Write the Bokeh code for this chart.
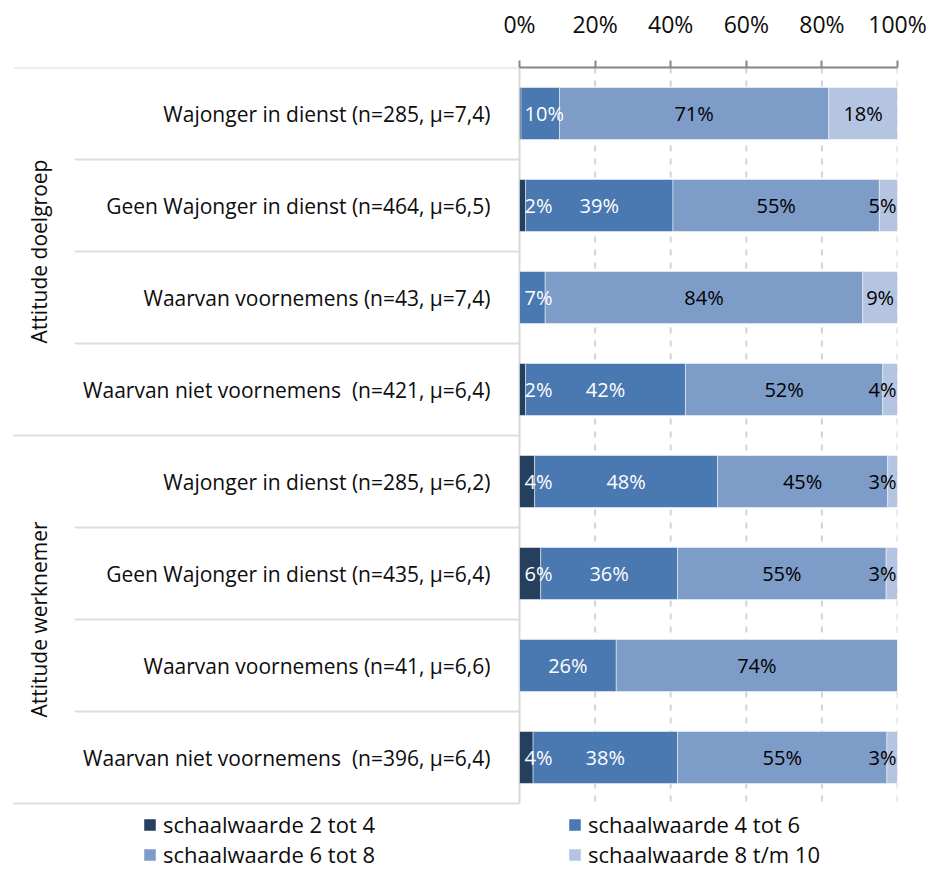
import math
from bokeh.plotting import figure
from bokeh.models import ColumnDataSource, Range1d, FixedTicker
from bokeh.core.properties import value
from bokeh.embed import file_html
from bokeh.resources import INLINE

# ---------------- data ----------------
groups = ["Attitude doelgroep", "Attitude werknemer"]
group_sizes = [4, 4]
categories = [
    "Wajonger in dienst (n=285, μ=7,4)",
    "Geen Wajonger in dienst (n=464, μ=6,5)",
    "Waarvan voornemens (n=43, μ=7,4)",
    "Waarvan niet voornemens  (n=421, μ=6,4)",
    "Wajonger in dienst (n=285, μ=6,2)",
    "Geen Wajonger in dienst (n=435, μ=6,4)",
    "Waarvan voornemens (n=41, μ=6,6)",
    "Waarvan niet voornemens  (n=396, μ=6,4)",
]
series_names = ["schaalwaarde 2 tot 4", "schaalwaarde 4 tot 6",
                "schaalwaarde 6 tot 8", "schaalwaarde 8 t/m 10"]
s_2_4 = [0.4, 1.6, 0.0, 1.6, 4.0, 5.6, 0.0, 3.6]
s_4_6 = [10.2, 39.0, 6.8, 42.3, 48.4, 36.2, 25.6, 38.2]
s_6_8 = [71.2, 54.6, 84.0, 52.2, 45.0, 55.2, 74.4, 55.4]
s_8_10 = [18.2, 4.8, 9.2, 3.9, 2.6, 3.0, 0.0, 2.8]
x_ticks = [0, 20, 40, 60, 80, 100]
x_tick_labels = ["0%", "20%", "40%", "60%", "80%", "100%"]

# ---------------- layout / style ----------------
FONT = "Open Sans"
colors = ["#253F5F", "#4A78B0", "#7E9CC8", "#B5C4E0"]
label_colors = ["white", "white", "black", "black"]
W, H = 931, 870
X0_PX, X100_PX = 519, 897      # pixel columns of 0% and 100%
Y0_PX, ROW_PX = 67, 92         # top of first row, row pitch
PXU = (X100_PX - X0_PX) / 100.0


def px2x(px):
    return (px - X0_PX) / PXU


series = [s_2_4, s_4_6, s_6_8, s_8_10]
keys = ["s0", "s1", "s2", "s3"]
n = len(categories)
ys = [i + 0.5 for i in range(n)]

src = ColumnDataSource(dict(y=ys, **{k: v for k, v in zip(keys, series)}))

p = figure(width=W, height=H, output_backend="svg", toolbar_location=None,
           x_range=Range1d(px2x(0), 100),
           y_range=Range1d((H - Y0_PX) / ROW_PX, 0),
           x_axis_location="above", y_axis_location=None,
           min_border_left=0, min_border_right=W - X100_PX,
           min_border_top=Y0_PX, min_border_bottom=0)
p.outline_line_color = None
p.background_fill_color = "white"
p.xgrid.grid_line_color = None
p.ygrid.grid_line_color = None

# dashed vertical grid lines at the ticks (only over the rows)
p.segment(x0=x_ticks[1:], x1=x_ticks[1:], y0=[0] * 5, y1=[n] * 5,
          line_color="#d4d4d4", line_width=2, line_dash="6 7")

# row separators (group boundaries long, inner boundaries shorter)
bounds_major = [0]
acc = 0
for g in group_sizes:
    acc += g
    bounds_major.append(acc)
bounds_minor = [b for b in range(n + 1) if b not in bounds_major]
p.segment(x0=[px2x(13)] * len(bounds_major), x1=[0] * len(bounds_major),
          y0=bounds_major, y1=bounds_major, line_color="#dedede", line_width=2)
p.segment(x0=[px2x(74)] * len(bounds_minor), x1=[0] * len(bounds_minor),
          y0=bounds_minor, y1=bounds_minor, line_color="#dedede", line_width=2)
# value-axis baseline at 0%
p.segment(x0=[0], x1=[0], y0=[0], y1=[n], line_color="#d9d9d9", line_width=2)

p.hbar_stack(keys, y="y", height=0.565, color=colors, source=src,
             line_color="white", line_width=0.8, line_alpha=0.6,
             legend_label=series_names)

# ---------------- bar labels ----------------
lx, ly, lt, lc = [], [], [], []
for i in range(n):
    left = 0.0
    for j, s in enumerate(series):
        v = s[i]
        if v >= 1:
            txt = f"{v:.0f}%"
            hw = ((len(txt) - 1) * 0.572 + 0.828) * 20 / 2.0
            c = left + v / 2.0
            c = max(c, (5 + hw) / PXU)
            c = min(c, 100 - (1 + hw) / PXU)
            lx.append(c); ly.append(ys[i]); lt.append(txt); lc.append(label_colors[j])
        left += v
lsrc = ColumnDataSource(dict(x=lx, y=ly, text=lt, color=lc))
p.text(x="x", y="y", text="text", text_color="color", source=lsrc,
       text_align="center", text_baseline="middle",
       text_font=value(FONT), text_font_size="20px")

# ---------------- category and group labels ----------------
shown = [c.replace("  ", " \u00a0") for c in categories]   # keep the double gap visible
csrc = ColumnDataSource(dict(y=ys, text=shown, x=[px2x(490)] * n))
p.text(x="x", y="y", text="text", source=csrc,
       text_align="right", text_baseline="middle",
       text_font=value(FONT), text_font_size="21px", text_color="#0d0d0d")

gy, start = [], 0
for size in group_sizes:
    gy.append(start + size / 2.0)
    start += size
gsrc = ColumnDataSource(dict(x=[px2x(38)] * len(groups), y=gy, text=groups))
p.text(x="x", y="y", text="text", source=gsrc, angle=math.pi / 2,
       text_align="center", text_baseline="middle",
       text_font=value(FONT), text_font_size="21px", text_color="#0d0d0d")

# ---------------- x axis (top) ----------------
xa = p.xaxis[0]
xa.ticker = FixedTicker(ticks=x_ticks)
xa.bounds = (0, 100)
xa.major_label_overrides = {t: l for t, l in zip(x_ticks, x_tick_labels)}
xa.axis_line_color = "#868686"
xa.axis_line_width = 2
xa.major_tick_line_color = "#868686"
xa.major_tick_line_width = 2
xa.major_tick_out = 7
xa.major_tick_in = 0
xa.minor_tick_line_color = None
xa.major_label_standoff = 21
xa.major_label_text_font = FONT
xa.major_label_text_font_size = "23px"
xa.major_label_text_color = "#0d0d0d"

# ---------------- legend ----------------
leg = p.legend[0]
leg.location = (142, 1)
leg.orientation = "horizontal"
leg.ncols = 2
leg.glyph_width = 15
leg.glyph_height = 15
leg.label_standoff = 6
leg.label_width = 404
leg.label_height = 26
leg.spacing = -2
leg.padding = 0
leg.margin = 0
leg.border_line_color = None
leg.background_fill_alpha = 0
leg.label_text_font = FONT
leg.label_text_font_size = "22px"
leg.label_text_color = "#0d0d0d"

open("out.html", "w").write(file_html(p, INLINE))
